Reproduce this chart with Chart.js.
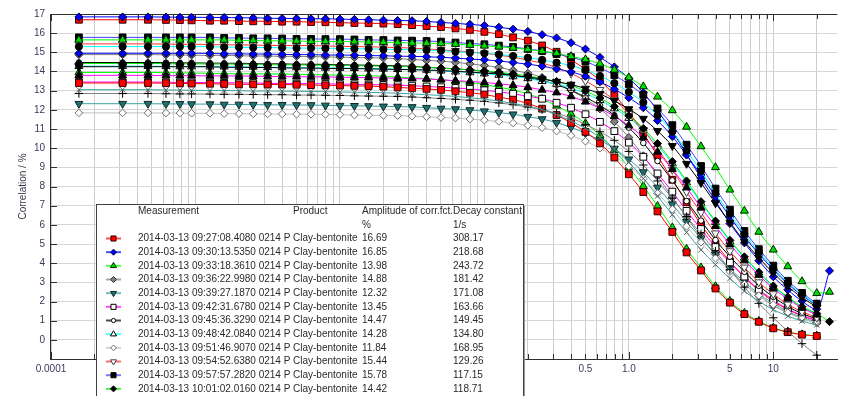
<!DOCTYPE html>
<html>
<head>
<meta charset="utf-8">
<script src="https://cdn.jsdelivr.net/npm/chart.js@4.4.1/dist/chart.umd.min.js"></script>
<style>
  html, body { margin: 0; padding: 0; background: #fff; }
  canvas { display: block; }
</style>
</head>
<body>
<canvas id="chart" width="843" height="396"></canvas>
<script>
// Lag times (ms) shared by every measurement run
const LAG_MS = [0.000156,0.000313,0.000469,0.000625,0.00078,0.00094,
  0.00126,0.00158,0.002,0.00251,0.00316,0.00398,0.00501,0.00631,0.00794,0.01,
  0.0126,0.0158,0.02,0.0251,0.0316,0.0398,0.0501,0.0631,0.0794,0.1,
  0.126,0.158,0.2,0.251,0.316,0.398,0.501,0.631,0.794,1,
  1.26,1.58,2,2.51,3.16,3.98,5.01,6.31,7.94,10,12.6,15.8,20,24.5];

// Correlation (%) per run
const corr01 = [16.70,16.70,16.70,16.69,16.68,16.67,16.65,16.65,16.63,16.62,16.62,16.60,16.60,16.58,16.57,16.55,16.53,16.52,16.50,16.47,16.42,16.37,16.32,16.25,16.17,16.07,15.95,15.78,15.61,15.36,15.03,14.61,14.11,13.53,12.78,11.86,10.77,9.60,8.35,7.18,6.01,5.01,4.09,3.26,2.59,2.00,1.59,1.25,1.00,null];
const corr02 = [16.85,16.85,16.85,16.84,16.83,16.83,16.82,16.82,16.80,16.80,16.78,16.77,16.77,16.75,16.75,16.73,16.72,16.70,16.68,16.66,16.65,16.61,16.56,16.51,16.46,16.40,16.31,16.21,16.09,15.92,15.75,15.50,15.17,14.74,14.24,13.65,12.89,11.96,10.87,9.69,8.43,7.25,6.07,5.06,4.13,3.29,2.61,2.02,1.60,3.60];
const corr03 = [13.95,13.95,13.95,13.94,13.93,13.92,13.91,13.89,13.88,13.88,13.87,13.87,13.85,13.84,13.82,13.81,13.80,13.78,13.75,13.71,13.67,13.63,13.57,13.50,13.42,13.32,13.18,13.04,12.83,12.56,12.21,11.79,11.30,10.67,9.90,9.00,8.02,6.98,5.86,4.74,3.77,2.79,2.02,1.40,0.98,0.63,0.42,0.28,0.21,null];
const corr04 = [14.88,14.88,14.88,14.87,14.86,14.85,14.84,14.84,14.82,14.81,14.81,14.79,14.79,14.78,14.76,14.75,14.73,14.72,14.70,14.67,14.63,14.58,14.54,14.48,14.40,14.31,14.21,14.06,13.91,13.69,13.39,13.02,12.57,12.05,11.38,10.56,9.60,8.56,7.44,6.40,5.36,4.46,3.65,2.90,2.31,1.79,1.41,1.12,0.89,null];
const corr05 = [12.32,12.32,12.32,12.31,12.31,12.30,12.30,12.28,12.28,12.27,12.26,12.26,12.25,12.25,12.23,12.22,12.21,12.20,12.18,12.17,12.15,12.11,12.07,12.04,11.99,11.93,11.85,11.77,11.64,11.52,11.33,11.09,10.78,10.41,9.98,9.42,8.75,7.95,7.08,6.16,5.30,4.44,3.70,3.02,2.40,1.91,1.48,1.17,0.92,null];
const corr06 = [13.45,13.45,13.45,13.44,13.43,13.43,13.42,13.41,13.41,13.40,13.38,13.38,13.37,13.37,13.36,13.34,13.33,13.32,13.30,13.29,13.26,13.22,13.18,13.14,13.09,13.02,12.94,12.84,12.71,12.58,12.37,12.11,11.77,11.37,10.89,10.29,9.55,8.68,7.73,6.73,5.78,4.84,4.04,3.30,2.62,2.08,1.61,1.28,1.01,null];
const corr07 = [14.47,14.47,14.47,14.46,14.45,14.45,14.44,14.43,14.43,14.41,14.40,14.40,14.38,14.38,14.37,14.35,14.34,14.33,14.31,14.30,14.27,14.22,14.18,14.14,14.08,14.01,13.92,13.82,13.67,13.53,13.31,13.02,12.66,12.23,11.72,11.07,10.27,9.33,8.32,7.24,6.22,5.21,4.34,3.55,2.82,2.24,1.74,1.37,1.09,null];
const corr08 = [14.28,14.28,14.28,14.27,14.26,14.26,14.25,14.25,14.24,14.24,14.22,14.21,14.21,14.19,14.19,14.18,14.17,14.15,14.14,14.12,14.11,14.08,14.04,13.99,13.95,13.89,13.82,13.74,13.64,13.49,13.35,13.14,12.85,12.50,12.07,11.57,10.92,10.14,9.21,8.21,7.14,6.14,5.14,4.28,3.50,2.78,2.21,1.71,1.36,null];
const corr09 = [11.84,11.84,11.84,11.83,11.83,11.82,11.82,11.80,11.80,11.79,11.78,11.78,11.77,11.77,11.76,11.75,11.73,11.72,11.71,11.70,11.67,11.64,11.60,11.57,11.52,11.46,11.39,11.31,11.19,11.07,10.89,10.66,10.36,10.00,9.59,9.06,8.41,7.64,6.81,5.92,5.09,4.26,3.55,2.90,2.31,1.84,1.42,1.12,0.89,null];
const corr10 = [15.44,15.44,15.44,15.43,15.42,15.42,15.41,15.39,15.39,15.38,15.36,15.36,15.35,15.35,15.33,15.32,15.30,15.29,15.27,15.25,15.22,15.18,15.13,15.08,15.02,14.95,14.85,14.75,14.59,14.44,14.20,13.90,13.51,13.05,12.51,11.81,10.96,9.96,8.88,7.72,6.64,5.56,4.63,3.78,3.01,2.39,1.85,1.47,1.16,null];
const corr11 = [15.78,15.78,15.78,15.78,15.78,15.78,15.78,15.75,15.75,15.73,15.73,15.72,15.70,15.70,15.69,15.69,15.67,15.65,15.64,15.62,15.61,15.59,15.56,15.51,15.46,15.42,15.35,15.28,15.18,15.07,14.91,14.75,14.52,14.20,13.81,13.33,12.78,12.07,11.20,10.18,9.07,7.89,6.79,5.68,4.73,3.87,3.08,2.45,1.89,null];
const corr12 = [14.42,14.42,14.42,14.41,14.40,14.40,14.39,14.39,14.38,14.38,14.36,14.35,14.35,14.33,14.33,14.32,14.30,14.29,14.28,14.26,14.25,14.22,14.17,14.13,14.09,14.03,13.96,13.87,13.77,13.63,13.48,13.27,12.98,12.62,12.18,11.68,11.03,10.24,9.30,8.29,7.21,6.20,5.19,4.33,3.53,2.81,2.24,1.73,1.37,0.95];
const corr13 = [13.40,13.40,13.40,13.39,13.38,13.37,13.36,13.35,13.33,13.33,13.32,13.32,13.31,13.29,13.28,13.27,13.25,13.24,13.21,13.17,13.13,13.09,13.04,12.97,12.89,12.80,12.66,12.53,12.33,12.06,11.73,11.32,10.85,10.25,9.51,8.64,7.71,6.70,5.63,4.56,3.62,2.68,1.94,1.34,0.94,0.60,0.40,0.27,0.20,null];
const corr14 = [14.95,14.95,14.95,14.95,14.95,14.95,14.95,14.92,14.92,14.91,14.91,14.89,14.88,14.88,14.86,14.86,14.85,14.83,14.82,14.80,14.79,14.77,14.74,14.70,14.65,14.61,14.55,14.47,14.38,14.28,14.13,13.98,13.75,13.46,13.08,12.63,12.11,11.44,10.61,9.64,8.60,7.48,6.43,5.38,4.49,3.66,2.92,2.32,1.79,null];
const corr15 = [15.65,15.65,15.65,15.65,15.65,15.65,15.65,15.65,15.62,15.62,15.60,15.60,15.59,15.57,15.57,15.56,15.56,15.54,15.53,15.51,15.49,15.48,15.46,15.43,15.38,15.34,15.29,15.23,15.15,15.06,14.95,14.79,14.63,14.40,14.09,13.69,13.22,12.68,11.97,11.11,10.09,9.00,7.83,6.73,5.63,4.70,3.83,3.05,2.43,2.50];
const corr16 = [12.85,12.85,12.85,12.84,12.83,12.83,12.82,12.81,12.81,12.80,12.79,12.79,12.77,12.77,12.76,12.75,12.73,12.72,12.71,12.70,12.67,12.63,12.59,12.55,12.50,12.44,12.36,12.27,12.14,12.01,11.82,11.57,11.24,10.86,10.41,9.83,9.12,8.29,7.39,6.43,5.53,4.63,3.66,2.75,1.90,1.15,0.45,-0.20,-0.80,null];
const corr17 = [13.05,13.05,13.05,13.04,13.03,13.02,13.01,13.01,13.00,12.98,12.98,12.97,12.97,12.96,12.95,12.93,12.92,12.91,12.89,12.87,12.83,12.79,12.75,12.70,12.63,12.55,12.46,12.33,12.20,12.01,11.75,11.42,11.03,10.57,9.98,9.27,8.42,7.50,6.53,5.61,4.70,3.92,3.20,2.54,2.02,1.57,1.24,0.98,0.78,null];
const corr18 = [13.80,13.80,13.80,13.79,13.78,13.78,13.77,13.77,13.76,13.76,13.74,13.73,13.73,13.72,13.72,13.70,13.69,13.68,13.66,13.65,13.63,13.61,13.57,13.52,13.48,13.43,13.36,13.28,13.18,13.04,12.90,12.70,12.42,12.08,11.66,11.18,10.56,9.80,8.90,7.94,6.90,5.93,4.97,4.14,3.38,2.69,2.14,1.66,1.31,null];
const corr19 = [14.25,14.25,14.25,14.25,14.25,14.25,14.25,14.22,14.22,14.21,14.21,14.19,14.18,14.18,14.16,14.16,14.15,14.14,14.12,14.11,14.09,14.08,14.05,14.01,13.97,13.92,13.87,13.79,13.71,13.61,13.47,13.32,13.11,12.83,12.47,12.04,11.54,10.90,10.12,9.19,8.19,7.13,6.13,5.13,4.28,3.49,2.78,2.21,1.71,null];
const corr20 = [15.30,15.30,15.30,15.30,15.30,15.30,15.30,15.27,15.27,15.25,15.25,15.24,15.22,15.22,15.21,15.21,15.19,15.18,15.16,15.15,15.13,15.12,15.09,15.04,14.99,14.95,14.89,14.81,14.72,14.61,14.46,14.31,14.08,13.77,13.39,12.93,12.39,11.70,10.86,9.87,8.80,7.65,6.58,5.51,4.59,3.75,2.98,2.37,1.84,null];

// Run table shown in the box
const measurements = [
  '2014-03-13 09:27:08.4080 0214 P', '2014-03-13 09:30:13.5350 0214 P',
  '2014-03-13 09:33:18.3610 0214 P', '2014-03-13 09:36:22.9980 0214 P',
  '2014-03-13 09:39:27.1870 0214 P', '2014-03-13 09:42:31.6780 0214 P',
  '2014-03-13 09:45:36.3290 0214 P', '2014-03-13 09:48:42.0840 0214 P',
  '2014-03-13 09:51:46.9070 0214 P', '2014-03-13 09:54:52.6380 0214 P',
  '2014-03-13 09:57:57.2820 0214 P', '2014-03-13 10:01:02.0160 0214 P'];
const products = Array(12).fill('Clay-bentonite');
const amplitudes = ['16.69','16.85','13.98','14.88','12.32','13.45','14.47','14.28','11.84','15.44','15.78','14.42'];
const decayConstants = ['308.17','218.68','243.72','181.42','171.08','163.66','149.45','134.80','168.95','129.26','117.15','118.71'];

// x labels (others stay blank)
const xLabelValues = [0.0001, 0.001, 0.01, 0.1, 0.5, 1, 5, 10];
const xLabelText = ['0.0001', '0.001', '0.01', '0.1', '0.5', '1.0', '5', '10'];

const CORR = [corr01,corr02,corr03,corr04,corr05,corr06,corr07,corr08,corr09,corr10,
  corr11,corr12,corr13,corr14,corr15,corr16,corr17,corr18,corr19,corr20];

// marker + fit line look for each run
const STYLE = [
  { shape: 'rect',     r: 4.8, fill: '#ff0000', edge: '#300000', line: '#ff0000' },
  { shape: 'rectRot',  r: 4.0, fill: '#0000ff', edge: '#000030', line: '#0000ff' },
  { shape: 'triangle', r: 4.6, fill: '#00dd00', edge: '#002000', line: '#00ff00' },
  { shape: 'rectRot',  r: 4.0, fill: '#808080', edge: '#303030', line: '#808080' },
  { shape: 'triangle', r: 4.6, rot: 180, fill: '#1f7070', edge: '#102828', line: '#3aa0a0' },
  { shape: 'rect',     r: 4.8, fill: '#ffffff', edge: '#000000', line: '#ff00ff' },
  { shape: 'circle',   r: 2.8, fill: '#ffffff', edge: '#000000', line: '#000000' },
  { shape: 'triangle', r: 4.6, fill: '#ffffff', edge: '#000000', line: '#00ffff' },
  { shape: 'rectRot',  r: 3.8, fill: '#ffffff', edge: '#707070', line: '#c0c0c0' },
  { shape: 'triangle', r: 4.6, rot: 180, fill: '#ffffff', edge: '#404040', line: '#ff3030' },
  { shape: 'rect',     r: 4.8, fill: '#000000', edge: '#000000', line: '#4040ff' },
  { shape: 'rectRot',  r: 4.0, fill: '#000000', edge: '#000000', line: '#00ee00' },
  { shape: 'rect',     r: 4.8, fill: '#ff0000', edge: '#300000', line: '#ff0000' },
  { shape: 'rectRot',  r: 4.0, fill: '#0000ff', edge: '#000030', line: '#0000ff' },
  { shape: 'triangle', r: 4.6, fill: '#00dd00', edge: '#002000', line: '#00ff00' },
  { shape: 'cross',    r: 4.2, fill: '#000000', edge: '#000000', line: '#808080' },
  { shape: 'crossRot', r: 3.8, fill: '#606060', edge: '#606060', line: '#3aa0a0' },
  { shape: 'triangle', r: 4.6, fill: '#000000', edge: '#000000', line: '#ff00ff' },
  { shape: 'triangle', r: 4.6, rot: 180, fill: '#000000', edge: '#000000', line: '#000000' },
  { shape: 'circle',   r: 3.6, fill: '#000000', edge: '#000000', line: '#00ffff' }
];

const FONT = '"Liberation Sans", Arial, sans-serif';
const AXIS_INK = '#3a3a5a';

// log grid at 1..9 x 10^n across the visible range
const logGrid = [];
for (let e = -4; e <= 1; e++) {
  for (let s = 1; s <= 9; s++) {
    const v = s * Math.pow(10, e);
    if (v <= 27.7) logGrid.push(v);
  }
}

function xLabel(v) {
  const i = xLabelValues.findIndex(t => Math.abs(Math.log10(t) - Math.log10(v)) < 1e-6);
  return i < 0 ? '' : xLabelText[i];
}

// short tick marks pointing into the plot + the top frame line
const innerTicks = {
  id: 'innerTicks',
  beforeDatasetsDraw(chart) {
    const { ctx, chartArea: a, scales: { x, y } } = chart;
    ctx.save();
    ctx.strokeStyle = '#303030';
    ctx.lineWidth = 1;
    ctx.beginPath();
    ctx.moveTo(a.left, a.top + 0.5);
    ctx.lineTo(a.right, a.top + 0.5);
    for (const t of y.ticks) {
      const py = Math.round(y.getPixelForValue(t.value)) + 0.5;
      const len = Number.isInteger(t.value) ? 7 : 5;
      ctx.moveTo(a.left, py);
      ctx.lineTo(a.left + len, py);
    }
    for (const t of x.ticks) {
      const px = Math.round(x.getPixelForValue(t.value)) + 0.5;
      const major = Math.abs(Math.log10(t.value) - Math.round(Math.log10(t.value))) < 1e-6;
      const len = major ? 7 : 5;
      ctx.moveTo(px, a.bottom);
      ctx.lineTo(px, a.bottom - len);
      ctx.moveTo(px, a.top);
      ctx.lineTo(px, a.top + len);
    }
    ctx.stroke();
    ctx.restore();
  }
};

// run table drawn over the plot
const runTable = {
  id: 'runTable',
  afterDraw(chart) {
    const ctx = chart.ctx;
    const left = 96, top = 204, right = 523;
    ctx.save();
    ctx.fillStyle = '#ffffff';
    ctx.fillRect(left, top, right - left, 200);
    ctx.strokeStyle = '#404040';
    ctx.lineWidth = 1;
    ctx.strokeRect(left + 0.5, top + 0.5, right - left, 200);
    ctx.strokeStyle = '#9a9a9a';
    ctx.beginPath();
    ctx.moveTo(right + 1.5, top + 2);
    ctx.lineTo(right + 1.5, 400);
    ctx.stroke();
    ctx.font = '10px ' + FONT;
    ctx.fillStyle = '#2a2a2a';
    ctx.textBaseline = 'middle';
    ctx.fillText('Measurement', 138, 211);
    ctx.fillText('Product', 293, 211);
    ctx.fillText('Amplitude of corr.fct.', 362, 211);
    ctx.fillText('Decay constant', 453, 211);
    ctx.fillText('%', 362, 225);
    ctx.fillText('1/s', 453, 225);
    measurements.forEach((m, i) => {
      const yy = 238.5 + i * 13.67;
      const st = STYLE[i];
      ctx.strokeStyle = st.line;
      ctx.globalAlpha = 0.7;
      ctx.lineWidth = 2;
      ctx.beginPath();
      ctx.moveTo(106, yy);
      ctx.lineTo(121, yy);
      ctx.stroke();
      ctx.globalAlpha = 1;
      ctx.fillStyle = st.fill;
      ctx.strokeStyle = st.edge;
      ctx.lineWidth = 1;
      Chart.helpers.drawPoint(ctx, { pointStyle: st.shape, rotation: st.rot || 0, radius: st.r * 0.75, borderWidth: 1 }, 113.5, yy);
      ctx.fillStyle = '#2a2a2a';
      ctx.fillText(m, 138, yy);
      ctx.fillStyle = '#ffffff';
      ctx.fillRect(291, yy - 6, 68, 12);
      ctx.fillStyle = '#2a2a2a';
      ctx.fillText(products[i], 293, yy);
      ctx.fillText(amplitudes[i], 362, yy);
      ctx.fillText(decayConstants[i], 453, yy);
    });
    ctx.restore();
  }
};

const datasets = CORR.map((ys, i) => {
  const st = STYLE[i];
  return {
    label: i < measurements.length ? measurements[i] : 'run ' + (i + 1),
    data: ys.map((v, j) => ({ x: LAG_MS[j], y: v })),
    order: CORR.length - i,   // later runs end up on top
    showLine: true,
    borderColor: st.line,
    borderWidth: 1,
    cubicInterpolationMode: 'monotone',
    pointStyle: st.shape,
    pointRotation: st.rot || 0,
    pointRadius: st.r,
    pointBackgroundColor: st.fill,
    pointBorderColor: st.edge,
    pointBorderWidth: 1,
    clip: false
  };
});

new Chart(document.getElementById('chart'), {
  type: 'scatter',
  data: { datasets },
  options: {
    responsive: false,
    animation: false,
    events: [],
    layout: { padding: { top: 14, right: 0, bottom: 0, left: 0 } },
    plugins: { legend: { display: false }, tooltip: { enabled: false } },
    scales: {
      x: {
        type: 'logarithmic',
        min: 0.0000984,
        max: 27.7,
        afterBuildTicks: s => { s.ticks = logGrid.map(v => ({ value: v })); },
        afterFit: s => { s.height = 37; },
        grid: { color: '#cdcdcd', drawTicks: false },
        border: { color: '#303030' },
        ticks: {
          autoSkip: false, maxRotation: 0, padding: 4,
          color: AXIS_INK, font: { family: FONT, size: 10 },
          callback: v => xLabel(v)
        }
      },
      y: {
        min: -1,
        max: 17,
        afterFit: s => { s.width = 50; },
        grid: { color: '#d6d6d6', drawTicks: false },
        border: { color: '#303030' },
        ticks: {
          stepSize: 0.5, padding: 5,
          color: AXIS_INK, font: { family: FONT, size: 10 },
          callback: v => (Number.isInteger(v) && v >= 0 ? String(v) : '')
        },
        title: {
          display: true, text: 'Correlation / %',
          color: '#3c3448', font: { family: FONT, size: 10 },
          padding: { top: 17, bottom: 0 }
        }
      }
    }
  },
  plugins: [innerTicks, runTable]
});
</script>
</body>
</html>
